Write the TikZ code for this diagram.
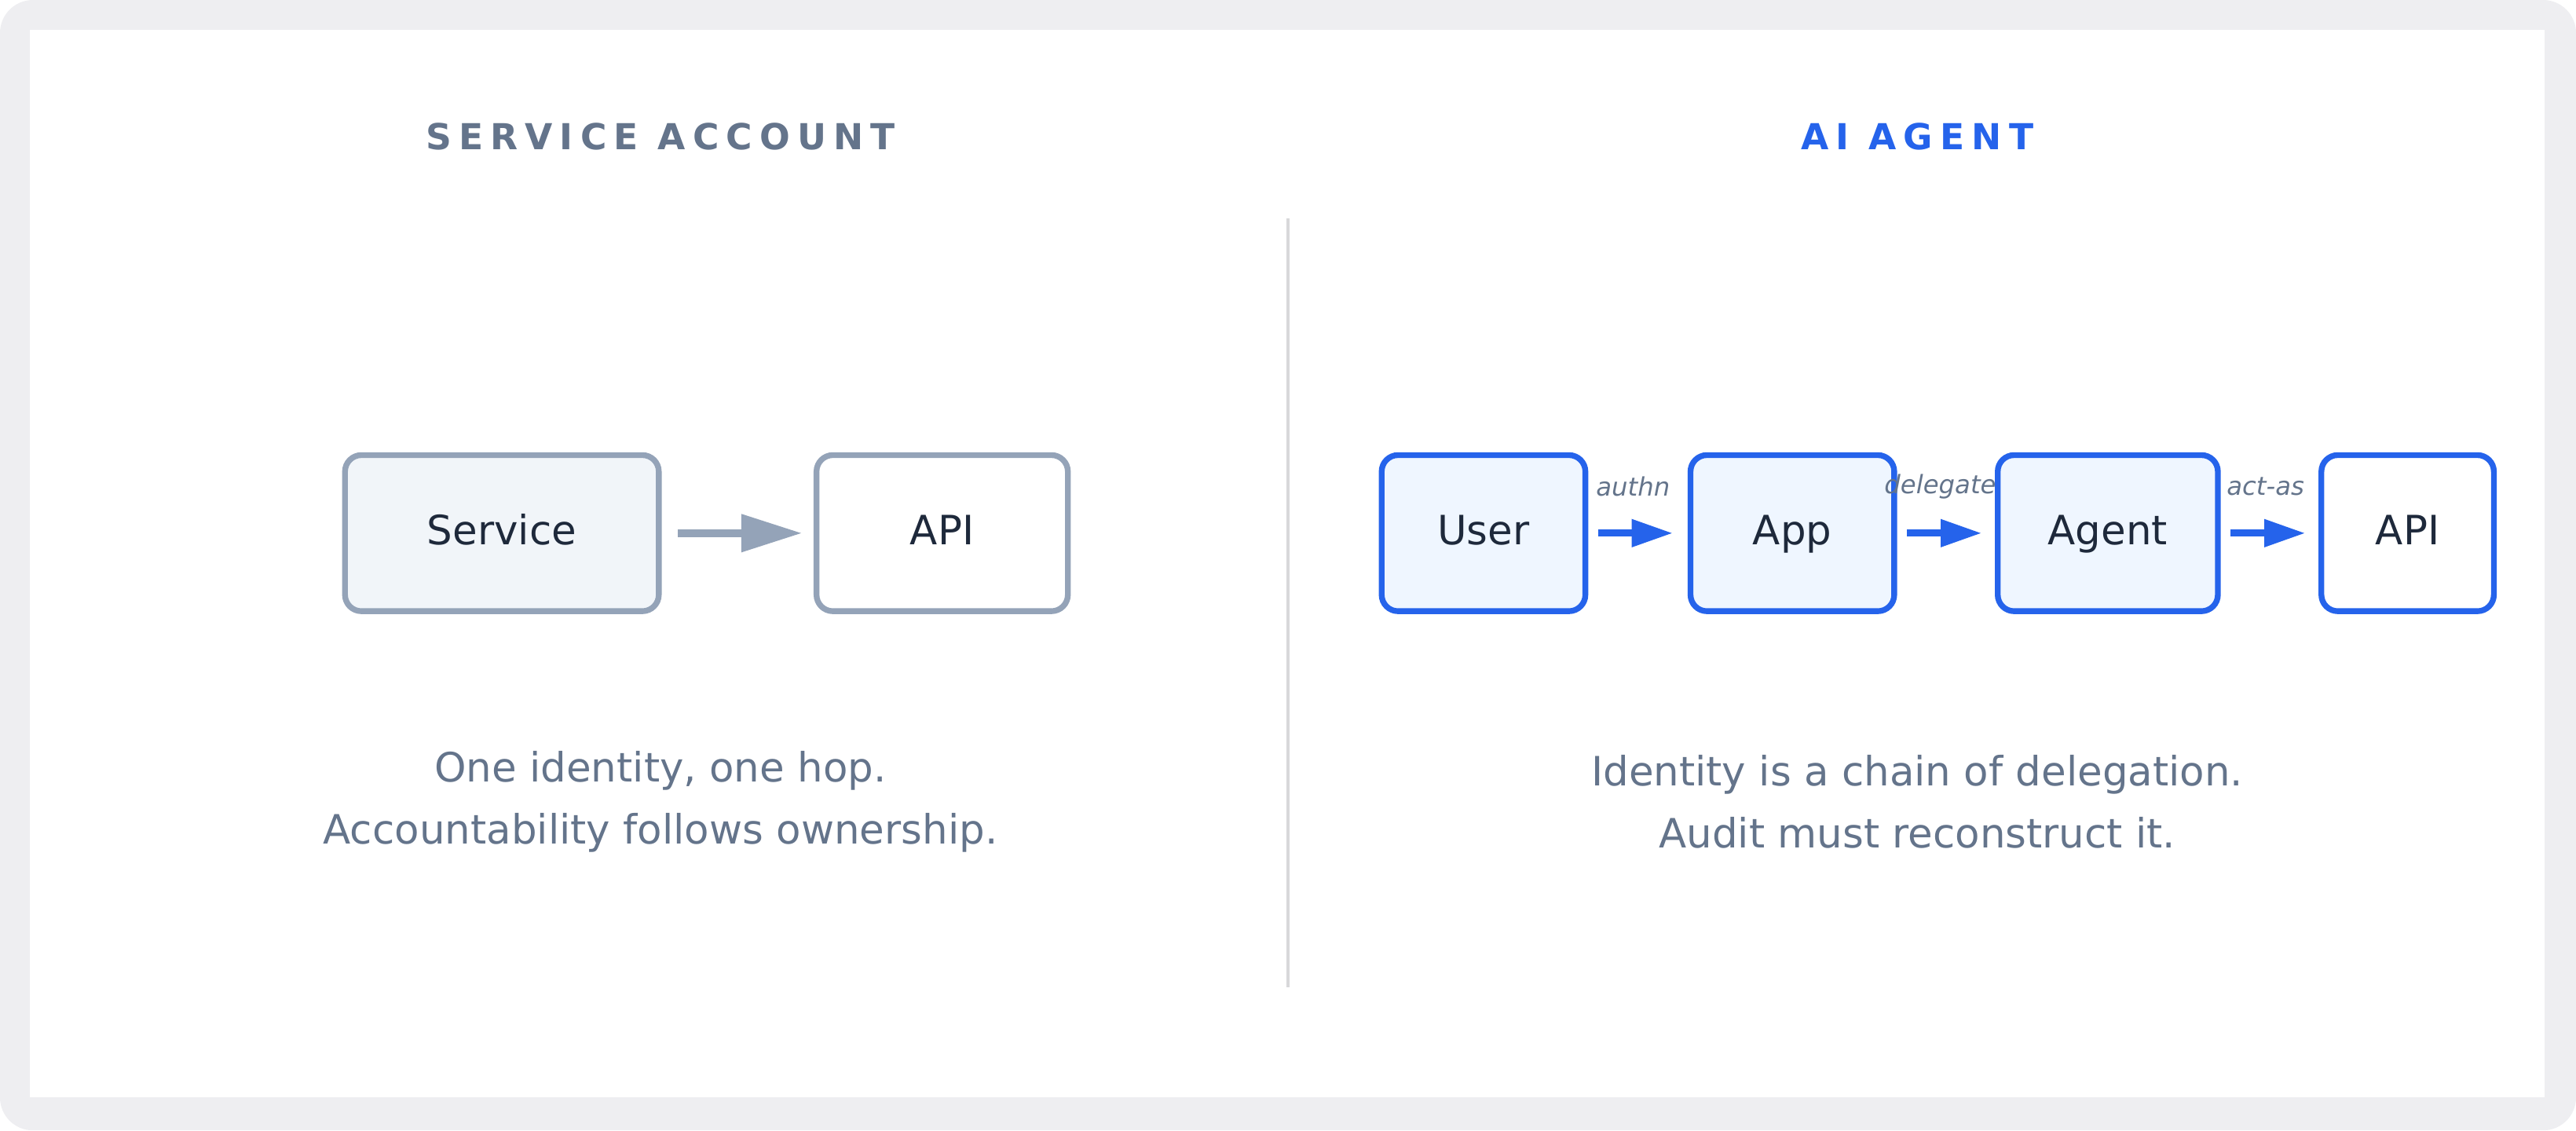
\documentclass[tikz,border=0pt]{standalone}
\usepackage{fontspec}
\setmainfont{DejaVu Sans}
\newfontfamily\titlefont[LetterSpace=20]{DejaVu Sans}
\usetikzlibrary{arrows.meta}
\definecolor{slate}{HTML}{64748B}
\definecolor{graystroke}{HTML}{94A3B8}
\definecolor{grayfill}{HTML}{F1F5F9}
\definecolor{blu}{HTML}{2563EB}
\definecolor{blufill}{HTML}{EFF6FF}
\definecolor{frame}{HTML}{EEEEF1}
\definecolor{ink}{HTML}{1E293B}
\tikzset{
  boxbase/.style={line width=5pt,rounded corners=0.5cm,text=ink,font=\fontsize{35}{40}\selectfont,text height=0.9cm,text depth=0.2cm},
  gbox/.style={boxbase,draw=graystroke,fill=grayfill},
  bbox/.style={boxbase,draw=blu,fill=blufill},
  garrow/.style={draw=graystroke,line width=7pt,-{Triangle[length=1.85cm,width=1.1cm]}},
  barrow/.style={draw=blu,line width=6pt,-{Triangle[length=1.25cm,width=0.8cm]}},
  elab/.style={text=slate,font=\itshape\fontsize{22}{26}\selectfont},
  captxt/.style={text=slate,font=\fontsize{35}{54}\selectfont,align=center},
  ttl/.style={font=\titlefont\bfseries\fontsize{31}{36}\selectfont}
}
\begin{document}
\begin{tikzpicture}[x=0.05cm,y=-0.05cm]
\fill[frame,rounded corners=1cm] (0,0) rectangle (1568,688);
\fill[white] (18,18) rectangle (1549,668);
\draw[line width=3pt,color=frame!80!gray] (784,133) -- (784,601);
\node[ttl,text=slate] (t1) at (402,83) {SERVICE ACCOUNT};
\node[ttl,text=blu] (t2) at (1167,83) {AI AGENT};
% left
\node[gbox,minimum width=191*0.05cm,minimum height=95*0.05cm] (svc) at (305.5,324.5) {Service};
\node[gbox,fill=white,minimum width=153*0.05cm,minimum height=95*0.05cm] (api1) at (573.5,324.5) {API};
\draw[garrow] ([xshift=0.5cm]svc.east) -- ([xshift=-0.35cm]api1.west);
\node[captxt] (c1) at (402,488) {One identity, one hop.\\Accountability follows ownership.};
% right
\node[bbox,minimum width=124*0.05cm,minimum height=95*0.05cm] (user) at (903,324.5) {User};
\node[bbox,minimum width=124*0.05cm,minimum height=95*0.05cm] (app) at (1091,324.5) {App};
\node[bbox,minimum width=134*0.05cm,minimum height=95*0.05cm] (agent) at (1283,324.5) {Agent};
\node[bbox,fill=white,minimum width=105*0.05cm,minimum height=95*0.05cm] (api2) at (1465.5,324.5) {API};
\draw[barrow] ([xshift=0.3cm]user.east) -- ([xshift=-0.45cm]app.west);
\draw[barrow] ([xshift=0.3cm]app.east) -- ([xshift=-0.4cm]agent.west);
\draw[barrow] ([xshift=0.3cm]agent.east) -- ([xshift=-0.4cm]api2.west);
\node[elab] (l1) at (994,296) {authn};
\node[elab] (l2) at (1181,296) {delegate};
\node[elab] (l3) at (1379,296) {act-as};
\node[captxt] (c2) at (1167,488) {Identity is a chain of delegation.\\Audit must reconstruct it.};
\end{tikzpicture}
\end{document}
